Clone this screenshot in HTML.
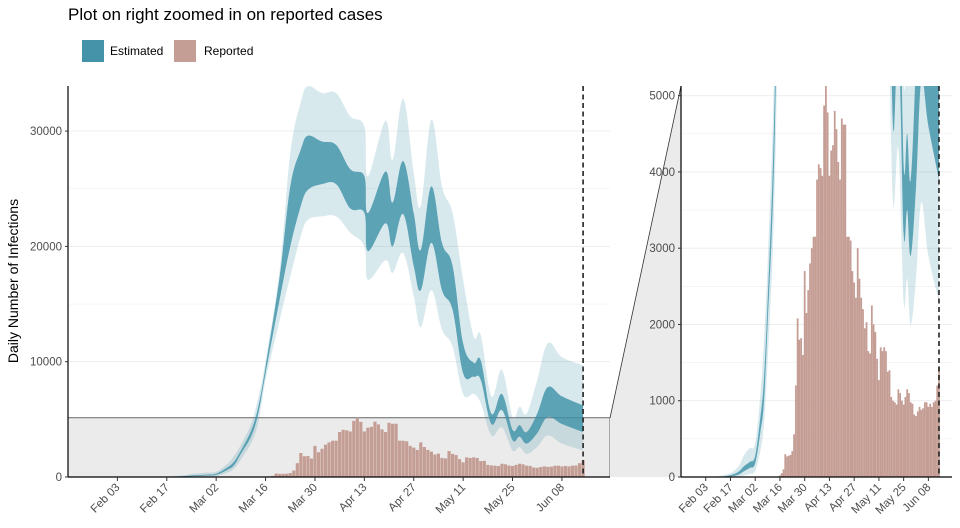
<!DOCTYPE html>
<html><head><meta charset="utf-8"><style>
body{margin:0;background:#fff;}
svg{display:block;font-family:"Liberation Sans",sans-serif;}
</style></head><body>
<svg id="chart" width="960" height="528" viewBox="0 0 960 528">
<text x="68" y="20" font-size="17" fill="#000">Plot on right zoomed in on reported cases</text>
<g>
<g><rect x="82" y="40" width="22" height="22" fill="#4593a9"/><text x="110" y="55" font-size="12">Estimated</text></g>
<g><rect x="174" y="40" width="22" height="22" fill="#c49d94"/><text x="204" y="55" font-size="12">Reported</text></g>
</g>
<text transform="translate(18,281) rotate(-90)" text-anchor="middle" font-size="14">Daily Number of Infections</text>
<defs>
<clipPath id="clipL"><rect x="68" y="86" width="542" height="391"/></clipPath>
<clipPath id="clipR"><rect x="681" y="86" width="271" height="391"/></clipPath>
</defs>
<polygon points="610,418 681,86 681,477 610,477" fill="#ebebeb"/>
<line x1="610" y1="418" x2="681" y2="86" stroke="#333" stroke-width="0.8"/>
<g id="left"></g>
<g id="right"></g>
</svg>
<script>
const reportStart = "2020-03-16";
const reported = [20,50,100,300,270,280,290,340,560,1200,2080,1800,1820,1600,2700,2150,2450,2800,3000,3150,3150,3900,4100,4050,3950,4870,5140,4780,3950,4280,4350,4800,4560,4130,3900,4700,4620,4620,3150,3150,3100,2700,2550,2350,3000,2600,2350,2200,1950,2030,1650,1620,2250,2000,1900,1550,1270,1700,1650,1700,1650,1380,1400,1050,1000,980,950,1150,1100,1000,950,1050,1150,1100,980,960,820,800,860,920,880,900,980,980,920,960,920,980,1000,1200,1450];
const estDates = ["2020-01-22","2020-02-10","2020-02-20","2020-02-25","2020-02-28","2020-03-02","2020-03-05","2020-03-07","2020-03-09","2020-03-12","2020-03-14","2020-03-16","2020-03-20","2020-03-23","2020-03-26","2020-03-28","2020-04-01","2020-04-05","2020-04-09","2020-04-13","2020-04-14","2020-04-19","2020-04-21","2020-04-24","2020-04-27","2020-04-29","2020-05-02","2020-05-05","2020-05-08","2020-05-11","2020-05-14","2020-05-16","2020-05-19","2020-05-22","2020-05-25","2020-05-27","2020-05-29","2020-06-01","2020-06-04","2020-06-08","2020-06-14"];
const lightLow = [0,0,0,20,40,80,350,700,1500,3000,4800,8400,13600,17400,20900,22300,22600,22600,21200,20000,17100,18800,17700,19400,15700,13000,16200,12800,11300,7200,7200,6400,3600,4300,2300,2600,2000,2600,3600,2900,2300];
const lightHigh = [0,10,100,300,380,450,1100,1800,2800,4700,7000,10100,18000,28100,32500,33900,33300,33300,31300,30400,26100,30900,27500,32800,26400,23500,31000,25200,22900,17100,12200,12300,7000,9300,5200,6100,5500,8400,11600,10400,9700];
const darkLow = [0,0,20,80,120,180,600,1000,2000,3600,5600,9000,15400,20000,23500,24900,25400,25400,23300,22900,19600,22000,20000,22800,18300,16200,20300,16200,14500,9000,8700,8400,4600,5800,3200,3500,2900,3800,5200,4600,3900];
const darkHigh = [0,2,50,150,200,280,800,1300,2300,4100,6200,9600,17400,25200,28400,29600,29100,28800,26700,26100,22900,26500,23800,27400,22900,19700,25200,20300,18300,11600,9900,10100,5500,7200,4100,4500,3900,5500,7800,7000,6200];
const tickLabels = ["Feb 03","Feb 17","Mar 02","Mar 16","Mar 30","Apr 13","Apr 27","May 11","May 25","Jun 08"];
const tickDates = ["2020-02-03","2020-02-17","2020-03-02","2020-03-16","2020-03-30","2020-04-13","2020-04-27","2020-05-11","2020-05-25","2020-06-08"];
const endDate = "2020-06-14";
const leftYTicks = [0,10000,20000,30000];
const rightYTicks = [0,1000,2000,3000,4000,5000];

const NS="http://www.w3.org/2000/svg";
const DAY=86400000, origin=Date.parse("2020-01-20");
function dayOf(s){return (Date.parse(s)-origin)/DAY;}
function mk(tag,attrs,parent){const e=document.createElementNS(NS,tag);for(const k in attrs)e.setAttribute(k,attrs[k]);parent.appendChild(e);return e;}
function smooth(pts,start){
  let d=start?'M'+pts[0][0].toFixed(1)+','+pts[0][1].toFixed(1):'L'+pts[0][0].toFixed(1)+','+pts[0][1].toFixed(1);
  for(let i=0;i<pts.length-1;i++){
    const p0=pts[Math.max(0,i-1)],p1=pts[i],p2=pts[i+1],p3=pts[Math.min(pts.length-1,i+2)];
    const t=0.18;
    const c1=[p1[0]+(p2[0]-p0[0])*t,p1[1]+(p2[1]-p0[1])*t];
    const c2=[p2[0]-(p3[0]-p1[0])*t,p2[1]-(p3[1]-p1[1])*t];
    d+='C'+c1[0].toFixed(1)+','+c1[1].toFixed(1)+' '+c2[0].toFixed(1)+','+c2[1].toFixed(1)+' '+p2[0].toFixed(1)+','+p2[1].toFixed(1);
  }
  return d;
}

function panel(g,x0,pxDay,x1,pxUnit,ymaxVal,yTicks,minorStep,clip,isLeft,barFrac){
  const X=d=>x0+d*pxDay, Y=v=>477-v*pxUnit;
  for(let v=minorStep;v<=ymaxVal;v+=minorStep){
    const gl=mk('line',{x1:x0,x2:x1,y1:Y(v),y2:Y(v),stroke:'#ebebeb','stroke-width':(v%(minorStep*2)===0)?0.9:0.5},g);
    
    
  }
  const c=mk('g',{'clip-path':'url(#'+clip+')'},g);
  if(isLeft){
    const zr=mk('rect',{x:x0,y:Y(5140),width:x1-x0,height:Y(0)-Y(5140),fill:'#ebebeb',stroke:'#666','stroke-width':1},c);
    
    
  }
  const s=dayOf(reportStart);
  reported.forEach((v,i)=>{
    const b=mk('rect',{x:X(s+i)-pxDay*barFrac/2,width:pxDay*barFrac,y:Y(v),height:Y(0)-Y(v),fill:'#c49d94'},c);
    
    
  });
  function band(lo,hi,fill,op,name){
    const top=estDates.map((t,i)=>[X(dayOf(t)),Y(hi[i])]);
    const bot=estDates.map((t,i)=>[X(dayOf(t)),Y(lo[i])]).reverse();
    const p=mk('path',{d:smooth(top,true)+smooth(bot,false)+'Z',fill:fill,'fill-opacity':op},c);
    
    
  }
  band(lightLow,lightHigh,'#3e91a8',0.2,'estimate-90-band');
  band(darkLow,darkHigh,'#3e91a8',0.8,'estimate-50-band');
  const dl=mk('line',{x1:X(dayOf(endDate)),x2:X(dayOf(endDate)),y1:86,y2:477,stroke:'#222','stroke-width':1.6,'stroke-dasharray':'5,3.5'},g);
  
  
  mk('line',{x1:x0,x2:x0,y1:86,y2:477.5,stroke:'#000','stroke-width':1.2},g);
  mk('line',{x1:x0,x2:x1,y1:477,y2:477,stroke:'#000','stroke-width':1.2},g);
  yTicks.forEach(v=>{
    mk('line',{x1:x0-3,x2:x0,y1:Y(v),y2:Y(v),stroke:'#333'},g);
    const t=mk('text',{x:x0-6,y:Y(v)+4,'text-anchor':'end','font-size':11.5,fill:'#4d4d4d'},g);
    t.textContent=v;
    
    
  });
  tickDates.forEach((d,i)=>{
    const x=X(dayOf(d));
    mk('line',{x1:x,x2:x,y1:477,y2:481,stroke:'#333'},g);
    const t=mk('text',{transform:'translate('+(x+3)+',488) rotate(-45)','text-anchor':'end','font-size':11.5,fill:'#4d4d4d'},g);
    t.textContent=tickLabels[i];
    
    
  });
}
panel(document.getElementById('left'),68,3.528,610,0.01153,33900,leftYTicks,5000,'clipL',true,0.9);
panel(document.getElementById('right'),681,1.767,952,0.07627,5140,rightYTicks,500,'clipR',false,1.0);
</script>
</body></html>
